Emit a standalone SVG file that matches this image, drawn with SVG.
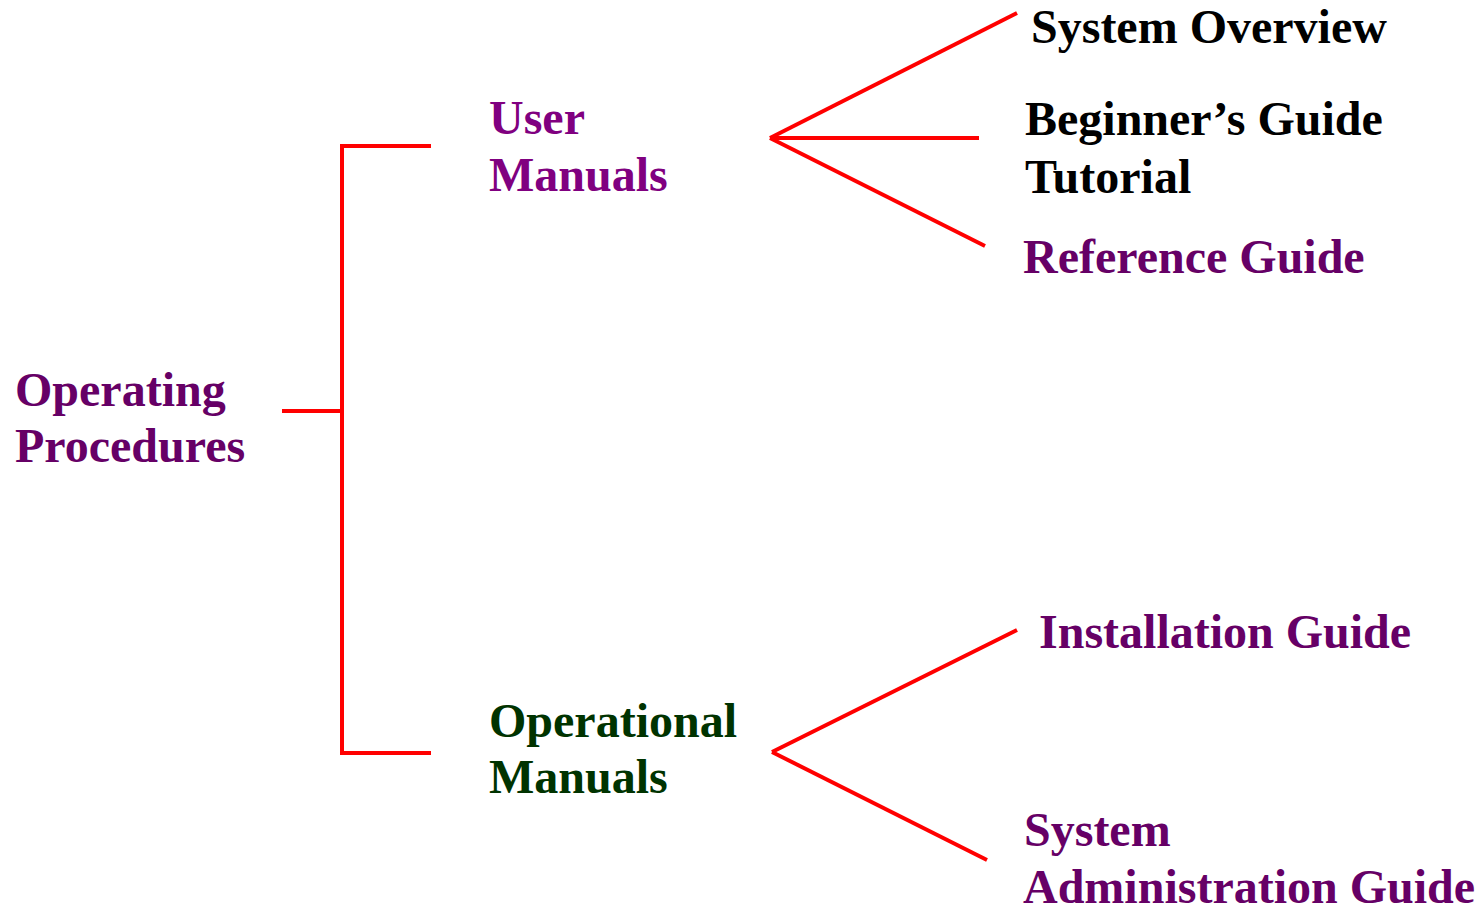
<svg xmlns="http://www.w3.org/2000/svg" width="1483" height="914" viewBox="0 0 1483 914">
<style>
text{font-family:"Liberation Serif","Times New Roman",serif;font-weight:bold;font-size:48px}
.p{fill:#660066}.m{fill:#800080}.g{fill:#003300}.k{fill:#000}
.c line,.c polyline{stroke:#ff0000;stroke-width:4;fill:none}
</style>
<rect width="1483" height="914" fill="#fff"/>
<g class="c" id="connectors">
<polyline points="431,146 342,146 342,753 431,753"/>
<line x1="282" y1="411" x2="342" y2="411"/>
<line x1="770" y1="138" x2="1017" y2="13"/>
<line x1="770" y1="138" x2="979" y2="138"/>
<line x1="770" y1="138" x2="985" y2="246"/>
<line x1="772" y1="752" x2="1017" y2="630"/>
<line x1="772" y1="752" x2="987" y2="860"/>
</g>
<g id="n-operating"><text class="p" x="15" y="406">Operating</text><text class="p" x="15" y="462">Procedures</text></g>
<g id="n-user"><text class="m" x="489" y="134">User</text><text class="m" x="489" y="191">Manuals</text></g>
<g id="n-operational"><text class="g" x="489" y="737">Operational</text><text class="g" x="489" y="793">Manuals</text></g>
<g id="n-overview"><text class="k" x="1031" y="43">System Overview</text></g>
<g id="n-beginner"><text class="k" x="1025" y="135">Beginner’s Guide</text><text class="k" x="1025" y="193">Tutorial</text></g>
<g id="n-reference"><text class="p" x="1023" y="273">Reference Guide</text></g>
<g id="n-installation"><text class="p" x="1039" y="648">Installation Guide</text></g>
<g id="n-sysadmin"><text class="p" x="1024" y="846">System</text><text class="p" x="1023" y="903">Administration Guide</text></g>
</svg>
